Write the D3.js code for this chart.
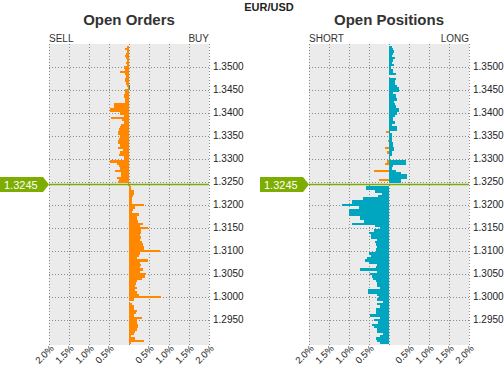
<!DOCTYPE html>
<html><head><meta charset="utf-8">
<script src="https://cdn.jsdelivr.net/npm/d3@7"></script>
<style>
body{margin:0;background:#fff;}
text{font-family:"Liberation Sans",Arial,sans-serif;}
</style></head>
<body><svg id="c" width="504" height="369"></svg>
<script>
// ---- data ----
const symbol = "EUR/USD";
const currentPrice = 1.3245;
// price levels, top (1.3545) to bottom (1.2900), step 0.0005
const priceLevels = d3.range(129, -1, -1).map(i => +(1.29 + i * 0.0005).toFixed(4));
const priceTicks = [1.2950,1.3000,1.3050,1.3100,1.3150,1.3200,1.3250,1.3300,1.3350,1.3400,1.3450,1.3500];
const pctTicks = [-2,-1.5,-1,-0.5,0.5,1,1.5,2];

// Open orders, % (negative = drawn to the left / SELL side)
const orderOrange = [
-0.06,-0.11,-0.06,-0.07,-0.09,-0.07,-0.05,-0.08,-0.06,-0.13,
-0.09,-0.23,-0.09,-0.08,-0.11,-0.10,-0.07,-0.05,-0.02,-0.10,
-0.11,-0.13,-0.12,-0.11,-0.11,-0.38,-0.38,-0.48,-0.48,-0.23,
-0.12,-0.46,-0.18,-0.13,-0.20,-0.23,-0.25,-0.27,-0.28,-0.23,
-0.24,-0.28,-0.28,-0.22,-0.27,-0.15,-0.23,-0.24,-0.12,-0.12,
-0.48,-0.30,-0.26,-0.22,-0.36,-0.20,-0.20,-0.31,-0.24,-0.27,
-0.02,
0.04,0.05,0.12,0.12,0.09,0.08,0.08,0.07,0.37,0.15,
0.11,0.08,0.24,0.20,0.20,0.22,0.34,0.28,0.47,0.30,
0.30,0.28,0.31,0.28,0.32,0.36,0.38,0.38,0.77,0.27,
0.25,0.21,0.47,0.28,0.30,0.28,0.36,0.28,0.42,0.40,
0.32,0.20,0.17,0.15,0.19,0.14,0.20,0.25,0.80,0.12,
0.00,0.07,0.12,0.12,0.19,0.17,0.12,0.32,0.20,0.20,
0.23,0.23,0.20,0.14,0.12,0.05,0.16,0.38,0.06];
const orderTealIdx = [17,18];
const orderTealVal = [0.03,0.03];

// Open positions, % (positive = LONG side, negative = SHORT side)
const positionTeal = [
0.08,0.10,0.12,0.10,0.08,0.14,0.10,0.07,0.12,0.06,
0.09,0.09,0.17,0.01,0.17,0.16,0.14,0.20,0.24,0.24,
0.10,0.17,0.18,0.21,0.12,0.14,0.17,0.24,0.24,0.20,
0.14,0.10,0.10,0.14,0.08,0.19,0.19,0.02,0.08,0.08,
0.08,0.08,0.10,0.10,0.12,0.12,0.08,0.08,0.02,0.02,
0.42,0.42,0.10,0.08,0.18,0.31,0.46,0.46,0.31,0.31,
0.00,
-0.58,-0.58,-0.36,-0.17,-0.28,-0.65,-0.93,-0.93,-1.18,-0.75,
-1.00,-1.00,-1.00,-0.72,-0.73,-0.63,-0.93,-0.36,-0.23,-0.38,
-0.50,-0.46,-0.46,-0.30,-0.36,-0.33,-0.30,-0.32,-0.32,-0.50,
-0.44,-0.55,-0.60,-0.50,-0.30,-0.32,-0.72,-0.30,-0.47,-0.43,
-0.40,-0.33,-0.30,-0.30,-0.22,-0.53,-0.53,-0.30,-0.25,-0.30,
-0.15,-0.30,-0.23,-0.33,-0.33,-0.33,-0.47,-0.23,-0.38,-0.28,
-0.43,-0.38,-0.30,-0.30,-0.15,-0.23,-0.32,-0.30,-0.22];
const positionOrangeIdx = [37,41,44,46,50,51,54,58];
const positionOrangeVal = [-0.08,-0.03,-0.11,-0.06,-0.06,-0.11,-0.38,-0.26];

// ---- drawing ----
const ORANGE = "#ff8800", TEAL = "#00a6bf", GREEN = "#7dad00";
const svg = d3.select("#c");
const y = d3.scaleLinear().domain([1.2896, 1.3551]).range([345, 44]);
const step = 0.0005;

svg.append("text").attr("x", 269).attr("y", 11).attr("text-anchor", "middle")
  .attr("font-size", 11).attr("font-weight", "bold").attr("fill", "#222").text(symbol);

function panel(x0, title, leftLbl, rightLbl, series) {
  const x = d3.scaleLinear().domain([-2, 2]).range([x0, x0 + 160]);
  const g = svg.append("g");
  g.append("rect").attr("x", x0).attr("y", 44).attr("width", 160).attr("height", 301).attr("fill", "#ebebeb");
  // grid
  g.selectAll(".vg").data([-2,-1.5,-1,-0.5,0,0.5,1,1.5,2]).join("line")
    .attr("x1", d => Math.round(x(d)) + 0.5).attr("x2", d => Math.round(x(d)) + 0.5)
    .attr("y1", 44).attr("y2", 345).attr("stroke", "#8a8a8a").attr("stroke-dasharray", "1,2");
  g.selectAll(".hg").data(priceTicks).join("line")
    .attr("x1", x0).attr("x2", x0 + 160)
    .attr("y1", d => Math.round(y(d)) + 0.5).attr("y2", d => Math.round(y(d)) + 0.5)
    .attr("stroke", "#8a8a8a").attr("stroke-dasharray", "1,2");
  // bars
  series.forEach(s => {
    g.append("g").attr("shape-rendering", "crispEdges").selectAll("rect")
      .data(s.data.filter(d => d.v !== 0)).join("rect")
      .attr("x", d => x(Math.min(0, d.v))).attr("width", d => Math.abs(x(d.v) - x(0)))
      .attr("y", d => y(d.p + step / 2)).attr("height", d => y(d.p - step / 2) - y(d.p + step / 2))
      .attr("fill", s.color);
  });
  // current price line
  g.append("line").attr("x1", x0).attr("x2", x0 + 160)
    .attr("y1", y(currentPrice)).attr("y2", y(currentPrice))
    .attr("stroke", GREEN).attr("stroke-width", 1.5);
  // y axis
  const ya = d3.axisRight(y).tickValues(priceTicks).tickFormat(d3.format(".4f")).tickSize(0).tickPadding(4);
  const yg = g.append("g").attr("transform", `translate(${x0 + 160},0)`).call(ya);
  yg.select(".domain").remove();
  yg.selectAll("text").attr("font-size", 10).attr("fill", "#222").attr("font-family", "Liberation Sans, Arial").attr("dy", "0.2em");
  // x axis
  const xa = d3.axisBottom(x).tickValues(pctTicks).tickFormat(d => d3.format(".1f")(Math.abs(d)) + "%").tickSize(0);
  const xg = g.append("g").attr("transform", "translate(0,345)").call(xa);
  xg.select(".domain").remove();
  xg.selectAll("text").attr("font-size", 9.5).attr("fill", "#222").attr("font-family", "Liberation Sans, Arial")
    .attr("text-anchor", "end").attr("dy", null).attr("y", 0)
    .attr("transform", "translate(5,4) rotate(-45)");
  // titles
  g.append("text").attr("x", x0 + 80).attr("y", 25).attr("text-anchor", "middle")
    .attr("font-size", 15).attr("font-weight", "bold").attr("fill", "#333").text(title);
  g.append("text").attr("x", x0).attr("y", 42).attr("font-size", 10).attr("fill", "#333").text(leftLbl);
  g.append("text").attr("x", x0 + 160).attr("y", 42).attr("text-anchor", "end").attr("font-size", 10).attr("fill", "#333").text(rightLbl);
  // price tag
  const yc = y(currentPrice), tx = x0 - 49;
  g.append("path").attr("d", `M${tx},${yc - 7.5}H${tx + 43}L${tx + 49},${yc}L${tx + 43},${yc + 7.5}H${tx}Z`).attr("fill", GREEN);
  g.append("text").attr("x", tx + 4).attr("y", yc + 4).attr("font-size", 11).attr("fill", "#fff").text(currentPrice.toFixed(4));
}

const lv = (arr) => arr.map((v, i) => ({p: priceLevels[i], v}));
const sparse = (idx, val) => idx.map((k, i) => ({p: priceLevels[k], v: val[i]}));

panel(49, "Open Orders", "SELL", "BUY", [
  {color: ORANGE, data: lv(orderOrange)},
  {color: TEAL, data: sparse(orderTealIdx, orderTealVal)}
]);
panel(309, "Open Positions", "SHORT", "LONG", [
  {color: TEAL, data: lv(positionTeal)},
  {color: ORANGE, data: sparse(positionOrangeIdx, positionOrangeVal)}
]);
</script></body></html>
